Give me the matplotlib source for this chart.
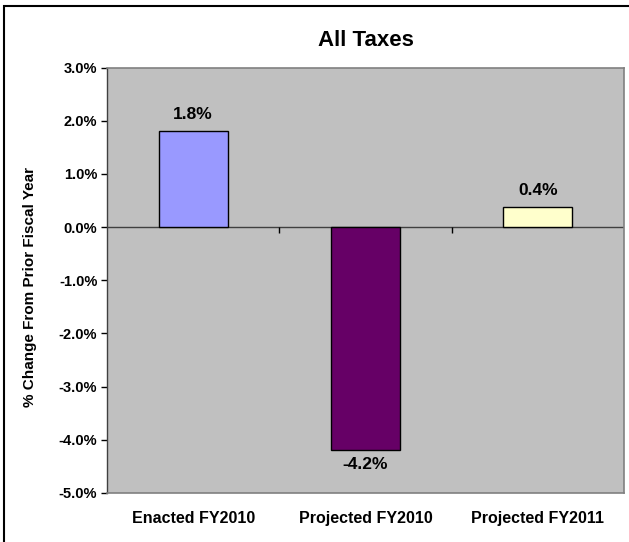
import matplotlib
matplotlib.use("Agg")
import matplotlib.pyplot as plt
from matplotlib.patches import Rectangle

plt.rcParams['font.family'] = ['Liberation Sans', 'DejaVu Sans']

categories = ["Enacted FY2010", "Projected FY2010", "Projected FY2011"]
values = [1.80, -4.19, 0.37]
bar_colors = ["#9999FF", "#660066", "#FFFFCC"]
yticks = [-5, -4, -3, -2, -1, 0, 1, 2, 3]

W, H = 629, 542
fig = plt.figure(figsize=(W / 100, H / 100), dpi=100)
fig.patch.set_facecolor("white")

ax = fig.add_axes([107 / W, (H - 493) / H, 517 / W, 425.5 / H])
ax.set_facecolor("#C0C0C0")

x = list(range(len(categories)))
ax.bar(x, values, width=0.40, color=bar_colors, edgecolor="black", linewidth=1.0, zorder=3)

ax.set_xlim(-0.5, len(categories) - 0.5)
ax.set_ylim(-5, 3)
ax.set_yticks(yticks)
ax.set_yticklabels([f"{t:.1f}%" for t in yticks], fontsize=10.5, fontweight="bold")
ax.tick_params(axis="y", direction="out", length=4, width=1, color="black", pad=3)

ax.set_xticks(x)
ax.set_xticklabels(categories, fontsize=11.5, fontweight="bold")
ax.tick_params(axis="x", length=0, pad=13)

for side in ["top", "right", "bottom"]:
    ax.spines[side].set_color("#808080")
    ax.spines[side].set_linewidth(1.2)
ax.spines["left"].set_color("#404040")
ax.spines["left"].set_linewidth(1.0)

# zero line with category-boundary tick marks
ax.axhline(0, color="#404040", linewidth=1.0, zorder=2)
bounds = [i + 0.5 for i in range(len(categories) - 1)]
ax.plot(bounds, [0] * len(bounds), linestyle="none", marker=3, markersize=4,
        markeredgecolor="black", markeredgewidth=1.0, zorder=2)

for xi, v in zip(x, values):
    off = 7 if v >= 0 else -5
    ax.annotate(f"{v:.1f}%", (xi, v), xytext=(0, off), textcoords="offset points",
                ha="center", va="bottom" if v >= 0 else "top",
                fontsize=12.5, fontweight="bold", zorder=4)

fig.text((107 + 517 / 2) / W, 1 - 41 / H, "All Taxes", ha="center", va="center",
         fontsize=16, fontweight="bold")
fig.text(30 / W, 1 - 287 / H, "% Change From Prior Fiscal Year", rotation=90,
         ha="center", va="center", fontsize=11, fontweight="bold")

# outer chart border (left and top visible)
fig.add_artist(Rectangle((4 / W, -0.05), 2.0, 1.05 - 6 / H, transform=fig.transFigure,
                         fill=False, edgecolor="black", linewidth=1.5, clip_on=False))

fig.savefig("out.png", dpi=100)
